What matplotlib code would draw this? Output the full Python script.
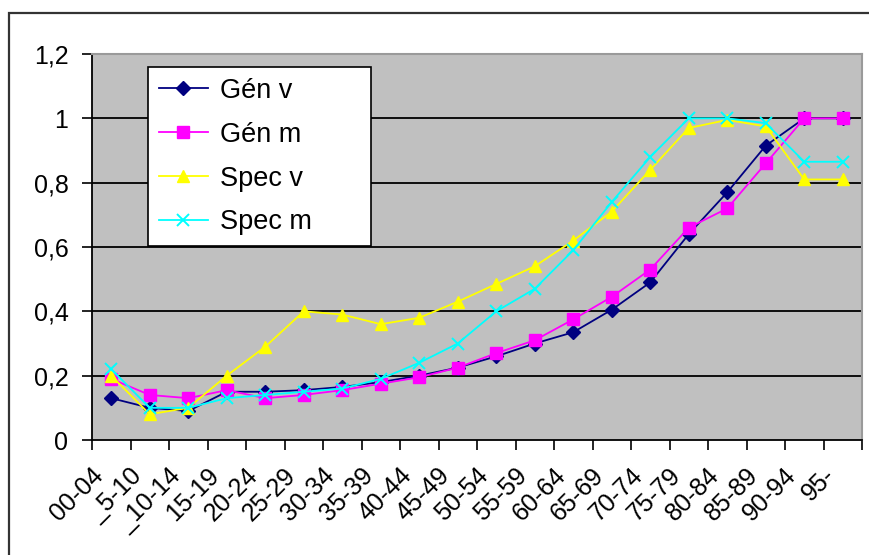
import numpy as np
import matplotlib
matplotlib.use("Agg")
import matplotlib.pyplot as plt
from matplotlib.patches import Rectangle

plt.rcParams['font.family'] = ['Liberation Sans', 'DejaVu Sans']

# age groups on the x axis
groupes = ["00-04", "_5-10", "_10-14", "15-19", "20-24", "25-29", "30-34",
           "35-39", "40-44", "45-49", "50-54", "55-59", "60-64", "65-69",
           "70-74", "75-79", "80-84", "85-89", "90-94", "95-"]

gen_v = [0.13, 0.10, 0.09, 0.15, 0.15, 0.155, 0.165, 0.18, 0.20, 0.225,
         0.26, 0.30, 0.335, 0.405, 0.49, 0.64, 0.77, 0.915, 1.0, 1.0]
gen_m = [0.19, 0.14, 0.13, 0.155, 0.13, 0.14, 0.155, 0.175, 0.195, 0.225,
         0.27, 0.31, 0.375, 0.445, 0.53, 0.66, 0.72, 0.86, 1.0, 1.0]
spec_v = [0.20, 0.08, 0.10, 0.20, 0.29, 0.40, 0.39, 0.36, 0.38, 0.43,
          0.485, 0.54, 0.62, 0.71, 0.84, 0.97, 0.995, 0.975, 0.81, 0.81]
spec_m = [0.22, 0.10, 0.10, 0.13, 0.14, 0.15, 0.16, 0.19, 0.24, 0.30,
          0.40, 0.47, 0.59, 0.74, 0.88, 1.0, 1.0, 0.985, 0.865, 0.865]

W, H = 869, 555
fig = plt.figure(figsize=(W / 100, H / 100), dpi=100)

# outer chart border, runs off the right and bottom edges
fig.patches.append(Rectangle((9 / W, -0.05), 1.0, 1 - 13 / H + 0.05,
                             transform=fig.transFigure, fill=False,
                             edgecolor='#333333', linewidth=1.6))

ax = fig.add_axes([92 / W, 1 - 440 / H, 770 / W, 386 / H])
ax.set_facecolor('#c0c0c0')

x = np.arange(len(groupes))
ax.plot(x, gen_v, color='#000080', lw=1.3, marker='D', ms=7, label='Gén v')
ax.plot(x, gen_m, color='#ff00ff', lw=1.3, marker='s', ms=8, label='Gén m')
ax.plot(x, spec_v, color='#ffff00', lw=1.3, marker='^', ms=9, label='Spec v')
ax.plot(x, spec_m, color='#00ffff', lw=1.3, marker='x', ms=8, mew=1.4,
        label='Spec m')

ax.set_xlim(-0.5, len(groupes) - 0.5)
ax.set_ylim(0, 1.2)

yt = np.arange(0, 1.21, 0.2)
ax.set_yticks(yt)
ax.set_yticklabels(["0", "0,2", "0,4", "0,6", "0,8", "1", "1,2"], fontsize=18)
for y in yt[1:-1]:
    ax.axhline(y, color='black', lw=1.3, zorder=0.5)

# category boundaries get the tick marks; the slanted labels hang
# a little left of each category centre
ax.set_xticks(np.arange(-0.5, len(groupes)), labels=[])
ax.set_xticks(x - 0.3, minor=True)
ax.set_xticklabels(groupes, minor=True, fontsize=18, rotation=45,
                   ha='right', va='center', rotation_mode='anchor')

ax.tick_params(axis='both', which='major', direction='out', length=7,
               width=1.2, color='black', pad=10)
ax.tick_params(axis='x', which='minor', length=0, pad=23)

for side in ('left', 'bottom'):
    ax.spines[side].set_color('black')
    ax.spines[side].set_linewidth(1.3)
for side in ('top', 'right'):
    ax.spines[side].set_color('#9a9a9a')
    ax.spines[side].set_linewidth(1.5)

leg_top = 1 - 13 / 386
leg = ax.legend(loc='upper left',
                bbox_to_anchor=(56 / 770, leg_top - 0.1, 223 / 770, 0.1),
                mode='expand', fontsize=19.5, frameon=True, fancybox=False,
                edgecolor='black', framealpha=1, borderpad=0.4,
                labelspacing=0.66, handlelength=1.8, handletextpad=0.45,
                borderaxespad=0)
leg.get_frame().set_linewidth(1.2)

fig.savefig('out.png', dpi=100)
